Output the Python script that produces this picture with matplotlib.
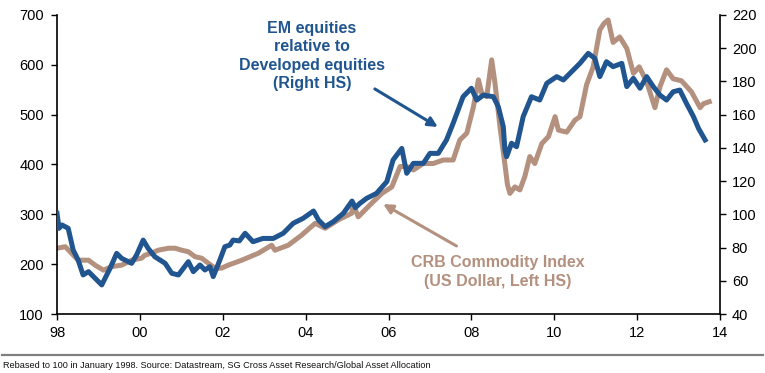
import matplotlib
matplotlib.use("Agg")
import matplotlib.pyplot as plt
from matplotlib.lines import Line2D

# EM equities relative to developed equities (right axis)
em_years = [1998.00, 1998.05, 1998.12, 1998.27, 1998.39, 1998.51, 1998.63, 1998.76, 1998.88, 1999.08,
            1999.28, 1999.44, 1999.56, 1999.80, 1999.92, 2000.08, 2000.20, 2000.36, 2000.61, 2000.77,
            2000.93, 2001.05, 2001.17, 2001.29, 2001.45, 2001.57, 2001.69, 2001.77, 2001.93, 2002.05,
            2002.17, 2002.25, 2002.40, 2002.54, 2002.73, 2002.97, 2003.22, 2003.46, 2003.70, 2003.94,
            2004.19, 2004.31, 2004.47, 2004.67, 2004.91, 2005.12, 2005.20, 2005.31, 2005.47, 2005.71,
            2005.85, 2005.96, 2006.11, 2006.32, 2006.44, 2006.60, 2006.84, 2007.00, 2007.20, 2007.40,
            2007.56, 2007.80, 2008.00, 2008.13, 2008.29, 2008.53, 2008.65, 2008.77, 2008.81, 2008.85,
            2008.97, 2009.09, 2009.25, 2009.45, 2009.65, 2009.82, 2010.06, 2010.22, 2010.46, 2010.62,
            2010.82, 2010.98, 2011.10, 2011.26, 2011.42, 2011.63, 2011.75, 2011.91, 2012.07, 2012.23,
            2012.39, 2012.55, 2012.71, 2012.87, 2013.03, 2013.19, 2013.36, 2013.48, 2013.64]
em_rel = [100.6, 91.6, 93.6, 91.6, 78.5, 72.5, 63.5, 65.5, 62.5, 57.5,
          67.5, 76.5, 73.5, 70.5, 75.5, 84.5, 79.5, 74.5, 70.5, 64.5,
          63.5, 67.5, 71.5, 65.5, 69.5, 66.5, 68.5, 62.5, 72.5, 80.5,
          81.5, 84.5, 84.0, 88.6, 83.5, 85.5, 85.5, 88.6, 94.6, 97.6,
          102.0, 96.6, 92.6, 95.6, 100.6, 108.0, 104.0, 106.6, 109.6, 112.6,
          116.6, 119.7, 132.7, 139.7, 124.7, 130.7, 130.7, 136.7, 136.7, 144.8,
          154.8, 170.8, 175.9, 168.8, 171.8, 170.8, 164.8, 152.8, 138.7, 134.7,
          142.8, 140.7, 158.8, 170.8, 168.8, 178.9, 182.9, 180.9, 186.9, 190.9,
          196.9, 193.9, 182.9, 191.9, 188.9, 190.9, 176.9, 181.9, 175.9, 182.9,
          176.9, 171.8, 168.8, 173.8, 174.8, 166.8, 158.8, 151.8, 144.8]

# CRB commodity index, US dollar (left axis)
crb_years = [1998.00, 1998.20, 1998.35, 1998.51, 1998.76, 1998.92, 1999.12, 1999.32, 1999.56, 1999.80,
             2000.04, 2000.12, 2000.28, 2000.44, 2000.69, 2000.85, 2001.01, 2001.17, 2001.33, 2001.49,
             2001.65, 2001.81, 2001.97, 2002.13, 2002.46, 2002.86, 2003.18, 2003.26, 2003.58, 2003.90,
             2004.23, 2004.47, 2004.79, 2005.11, 2005.15, 2005.27, 2005.59, 2005.84, 2006.08, 2006.28,
             2006.44, 2006.60, 2006.84, 2007.08, 2007.32, 2007.56, 2007.72, 2007.89, 2008.05, 2008.17,
             2008.25, 2008.37, 2008.49, 2008.57, 2008.69, 2008.81, 2008.87, 2008.93, 2009.05, 2009.17,
             2009.29, 2009.41, 2009.53, 2009.70, 2009.86, 2010.02, 2010.10, 2010.30, 2010.50, 2010.62,
             2010.78, 2010.94, 2011.10, 2011.20, 2011.30, 2011.42, 2011.58, 2011.75, 2011.91, 2012.05,
             2012.23, 2012.43, 2012.55, 2012.71, 2012.87, 2013.07, 2013.31, 2013.52, 2013.60, 2013.74]
crb = [232, 235, 222, 208, 208, 198, 188, 195, 198, 208,
       212, 218, 222, 228, 232, 232, 228, 225, 215, 212,
       202, 192, 192, 198, 208, 222, 238, 228, 238, 258,
       282, 272, 289, 302, 319, 295, 322, 342, 355, 396,
       396, 389, 402, 402, 409, 409, 449, 463, 516, 570,
       543, 536, 610, 563, 476, 400, 360, 342, 355, 349,
       376, 416, 402, 442, 456, 496, 469, 465, 489, 496,
       560, 596, 670, 683, 690, 645, 656, 633, 583, 596,
       566, 514, 556, 590, 572, 568, 546, 514, 522, 526]

year_ticks = [1998, 2000, 2002, 2004, 2006, 2008, 2010, 2012, 2014]
year_labels = ["98", "00", "02", "04", "06", "08", "10", "12", "14"]

BLUE = "#20558F"
BROWN = "#B4907E"

plt.rcParams["font.family"] = ["Liberation Sans", "DejaVu Sans"]

fig = plt.figure(figsize=(7.65, 3.73), dpi=100)
ax = fig.add_axes([57 / 765, 1 - 314 / 373, 663 / 765, 299 / 373])
ax2 = ax.twinx()

ax.plot(crb_years, crb, color=BROWN, lw=3.6, solid_joinstyle="round")
ax2.plot(em_years, em_rel, color=BLUE, lw=3.6, solid_joinstyle="round")

ax.set_xlim(1998, 2014)
ax.set_ylim(100, 700)
ax2.set_ylim(40, 220)
ax.set_xticks(year_ticks)
ax.set_xticklabels(year_labels)
ax.set_yticks(range(100, 701, 100))
ax2.set_yticks(range(40, 221, 20))

for a in (ax, ax2):
    a.spines["top"].set_visible(False)
    for s in a.spines.values():
        s.set_linewidth(1.2)
ax.spines["right"].set_visible(False)
ax2.spines["left"].set_visible(False)
ax2.spines["bottom"].set_visible(False)

ax.tick_params(axis="y", direction="out", length=4.5, width=1, labelsize=10.5, pad=5)
ax.tick_params(axis="x", direction="out", length=4.5, width=1, labelsize=10.5, pad=4)
ax2.tick_params(axis="y", direction="out", length=4.5, width=1, labelsize=10.5, pad=4)

# annotations
ax2.annotate("EM equities\nrelative to\nDeveloped equities\n(Right HS)",
             xy=(2007.19, 152.6), xytext=(2004.15, 195.3), textcoords="data",
             ha="center", va="center", multialignment="center", linespacing=1.3,
             fontsize=11.5, fontweight="bold", color=BLUE)
ax2.annotate("", xy=(2007.19, 152.6), xytext=(2005.67, 175.5),
             arrowprops=dict(arrowstyle="-|>", color=BLUE, lw=2.2, mutation_scale=14,
                             shrinkA=0, shrinkB=0))

ax.text(2008.63, 184, "CRB Commodity Index\n(US Dollar, Left HS)",
        ha="center", va="center", multialignment="center", linespacing=1.3,
        fontsize=11.5, fontweight="bold", color=BROWN)
ax.annotate("", xy=(2005.87, 320.7), xytext=(2007.64, 236.5),
            arrowprops=dict(arrowstyle="-|>", color=BROWN, lw=2.2, mutation_scale=14,
                            shrinkA=0, shrinkB=0))

# footer
fig.add_artist(Line2D([0.003, 0.997], [1 - 355 / 373] * 2, transform=fig.transFigure,
                      color="#808080", lw=1.6))
fig.text(3 / 765, 1 - 365 / 373,
         "Rebased to 100 in January 1998. Source: Datastream, SG Cross Asset Research/Global Asset Allocation",
         ha="left", va="center", fontsize=6.6, color="#111111")

fig.savefig("out.png", dpi=100)
